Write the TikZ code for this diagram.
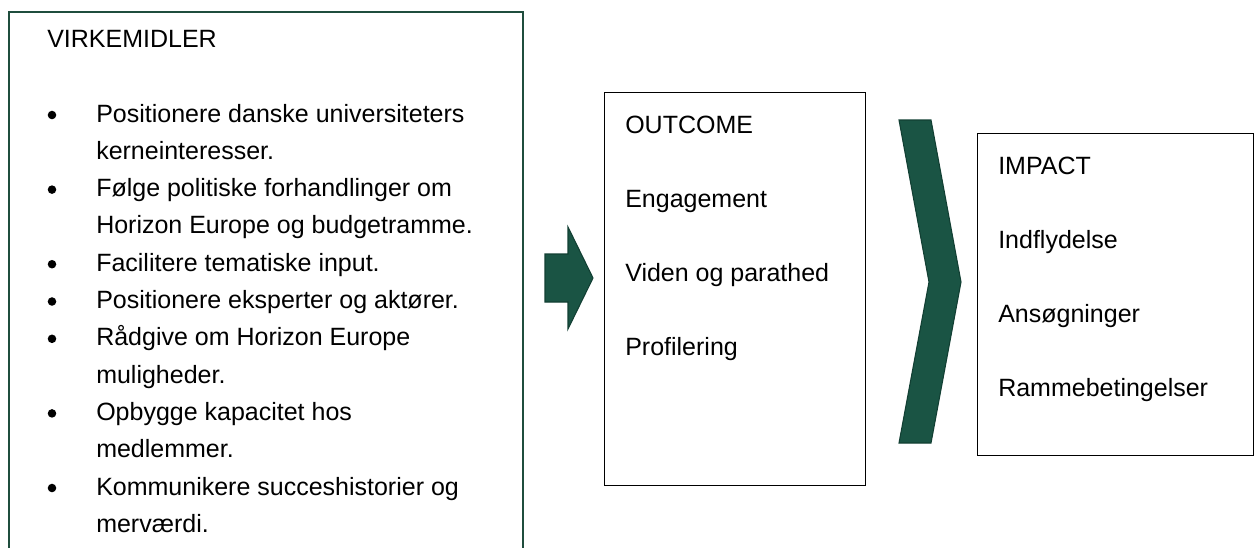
\documentclass[tikz,border=0pt]{standalone}
\usepackage{fontspec}
\setmainfont{Liberation Sans}
\definecolor{dkgreen}{HTML}{1A5444}
\definecolor{edgegreen}{HTML}{123F33}
\definecolor{boxgreen}{HTML}{1F4D3D}
\begin{document}
\begin{tikzpicture}[x=0.75pt,y=-0.75pt,
  txt/.style={anchor=base west, inner sep=0pt, font=\fontsize{18.75pt}{22pt}\selectfont},
  bul/.style={circle, fill=black, draw=none, inner sep=0pt, minimum size=6.4pt},
  framebox/.style={draw=black, line width=1.1pt, fill=none, inner sep=0pt},
  greenshape/.style={fill=dkgreen, draw=edgegreen, line width=0.8pt, line join=miter}]
\useasboundingbox (0,0) rectangle (1259,547);
\fill[white] (0,0) rectangle (1259,547);
% left box (open at the bottom)
\draw[draw=boxgreen, line width=1.5pt] (9,560) -- (9,12) -- (523,12) -- (523,560);
\node[txt] (vtitle) at (47,47) {VIRKEMIDLER};
\foreach \i/\t in {0/Positionere danske universiteters,1/kerneinteresser.,2/Følge politiske forhandlinger om,3/Horizon Europe og budgetramme.,4/Facilitere tematiske input.,5/Positionere eksperter og aktører.,6/Rådgive om Horizon Europe,7/muligheder.,8/Opbygge kapacitet hos,9/medlemmer.,10/Kommunikere succeshistorier og,11/merværdi.}{
  \node[txt] (l\i) at (96,{122+37.3*\i}) {\t};
}
\foreach \i in {0,2,4,5,6,8,10}{
  \node[bul] (b\i) at (52,{122+37.3*\i-7}) {};
}
% block arrow
\draw[greenshape] (545,254) -- (568,254) -- (568,227) -- (593,278) -- (568,329) -- (568,302) -- (545,302) -- cycle;
% outcome box
\node[framebox, minimum width=261*0.75pt, minimum height=393*0.75pt, anchor=north west] (outbox) at (604,92) {};
\node[txt] (otitle) at (625,133) {OUTCOME};
\node[txt] (o1) at (625,207) {Engagement};
\node[txt] (o2) at (625,281) {Viden og parathed};
\node[txt] (o3) at (625,355) {Profilering};
% chevron
\draw[greenshape] (899,120) -- (931,120) -- (961,282) -- (931,443) -- (899,443) -- (929,282) -- cycle;
% impact box
\node[framebox, minimum width=276*0.75pt, minimum height=322*0.75pt, anchor=north west] (impbox) at (977,133) {};
\node[txt] (ititle) at (998,174) {IMPACT};
\node[txt] (i1) at (998,248) {Indflydelse};
\node[txt] (i2) at (998,322) {Ansøgninger};
\node[txt] (i3) at (998,396) {Rammebetingelser};
\end{tikzpicture}
\end{document}
